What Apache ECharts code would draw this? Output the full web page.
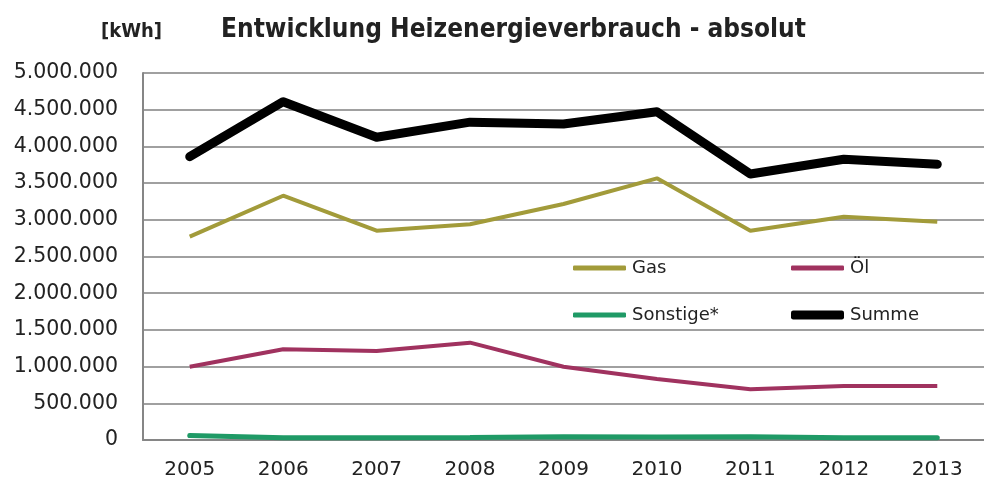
<!DOCTYPE html>
<html><head><meta charset="utf-8">
<script src="https://cdn.jsdelivr.net/npm/echarts@6/dist/echarts.min.js"></script>
<style>html,body{margin:0;padding:0;background:#fff}#c{width:984px;height:486px}</style>
</head><body><div id="c"></div>
<script>
const years = ['2005','2006','2007','2008','2009','2010','2011','2012','2013'];
const gas = [2770000, 3328000, 2852000, 2940000, 3215000, 3565000, 2852000, 3042000, 2974000];
const oel = [998000, 1236000, 1213000, 1326000, 998000, 831000, 690000, 736000, 736000];
const sonstige = [60000, 30000, 30000, 35000, 45000, 40000, 45000, 30000, 30000];
const summe = [3860000, 4609000, 4124000, 4330000, 4305000, 4473000, 3624000, 3824000, 3756000];
const yTicks = [0, 500000, 1000000, 1500000, 2000000, 2500000, 3000000, 3500000, 4000000, 4500000, 5000000];

const cGas = '#A29B3A', cOel = '#A0325F', cSon = '#1F9A66', cSum = '#000000';
const font = 'DejaVu Sans';
function fmt(v){ return v === 0 ? '0' : String(v).replace(/\B(?=(\d{3})+(?!\d))/g, '.'); }
function leg(name, left, top, color, h){
  return {data:[{name:name, itemStyle:{color:color}}], left:left, top:top, orient:'horizontal',
    icon:'roundRect', itemWidth:53, itemHeight:h, itemGap:4, padding:0,
    textStyle:{fontFamily:font, fontSize:18, color:'#222', padding:[0,0,0,1]}};
}
const chart = echarts.init(document.getElementById('c'), null, {renderer:'canvas'});
chart.setOption({
  animation:false,
  title:[
    {text:'Entwicklung Heizenergieverbrauch - absolut', left:216, top:12,
     textStyle:{fontFamily:'DejaVu Sans Condensed', fontWeight:'bold', fontSize:26, color:'#222'}},
    {text:'[kWh]', left:96, top:17,
     textStyle:{fontFamily:'DejaVu Sans Condensed', fontWeight:'bold', fontSize:20, color:'#222'}}
  ],
  legend:[
    leg('Gas', 573, 259, cGas, 5),
    leg('Öl', 791, 259, cOel, 5),
    leg('Sonstige*', 573, 306, cSon, 5),
    leg('Summe', 791, 306, cSum, 9)
  ],
  grid:{left:143, right:0, top:73, bottom:46, containLabel:false},
  xAxis:{type:'category', data:years, boundaryGap:true,
    axisLine:{lineStyle:{color:'#868686', width:2}}, axisTick:{show:false},
    axisLabel:{fontFamily:font, fontSize:20, color:'#222', margin:20}},
  yAxis:{type:'value', min:0, max:5000000, interval:500000,
    axisLine:{show:true, lineStyle:{color:'#868686', width:2}}, axisTick:{show:false},
    splitLine:{lineStyle:{color:'#A0A0A0', width:2}},
    axisLabel:{fontFamily:font, fontSize:20.5, color:'#222', margin:25, formatter:fmt,
      customValues: yTicks}},
  series:[
    {name:'Gas', type:'line', data:gas, symbol:'none', lineStyle:{color:cGas, width:4}, itemStyle:{color:cGas}},
    {name:'Öl', type:'line', data:oel, symbol:'none', lineStyle:{color:cOel, width:4}, itemStyle:{color:cOel}},
    {name:'Sonstige*', type:'line', data:sonstige, symbol:'none', lineStyle:{color:cSon, width:5, cap:'round'}, itemStyle:{color:cSon}},
    {name:'Summe', type:'line', data:summe, symbol:'none', lineStyle:{color:cSum, width:9, cap:'round', join:'round'}, itemStyle:{color:cSum}}
  ]
});
</script></body></html>
